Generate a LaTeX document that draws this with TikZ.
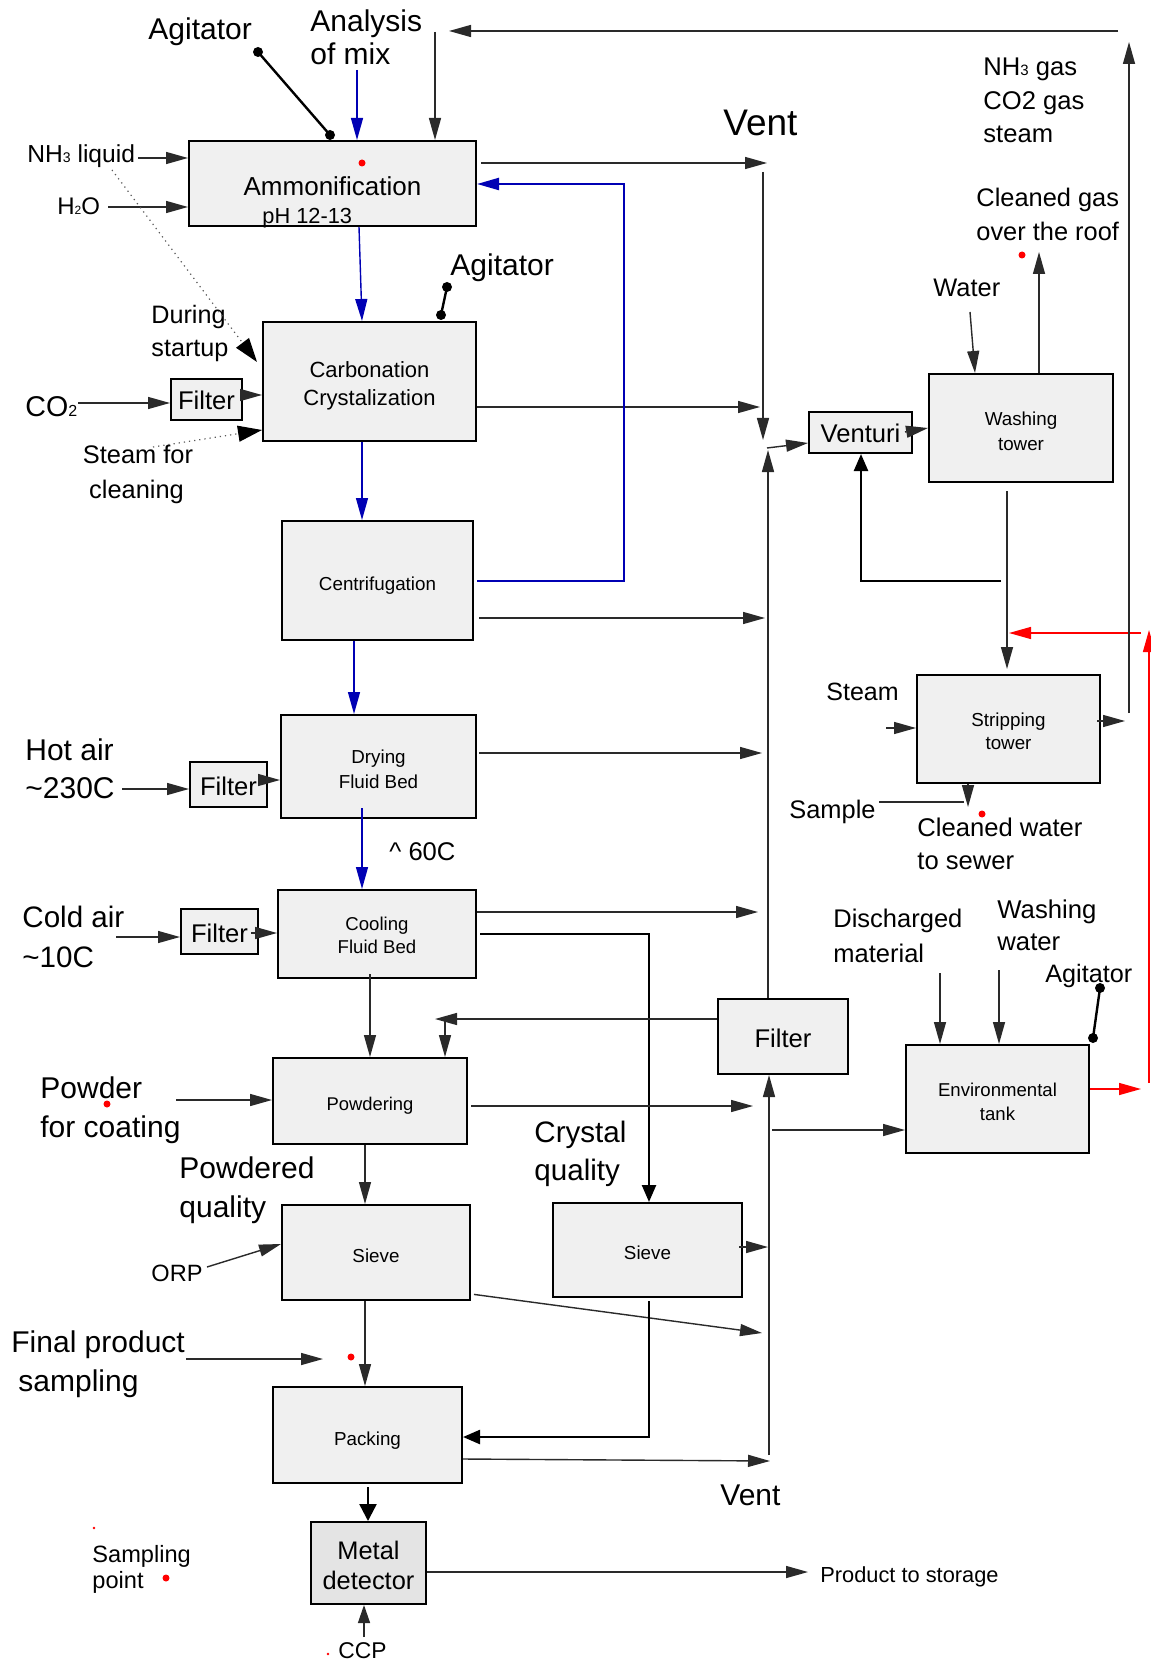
\documentclass[tikz,border=0pt]{standalone}
\usepackage{fontspec}
\setmainfont{Liberation Sans}
\usetikzlibrary{arrows.meta,calc}
\definecolor{boxgray}{HTML}{F0F0F0}
\definecolor{metalgray}{HTML}{E4E4E4}
\definecolor{flowblue}{HTML}{0000B4}
\definecolor{samplered}{HTML}{FF0000}
\definecolor{linegray}{HTML}{2A2A2A}
\newcommand\fsz[2]{\fontsize{#1}{#2}\selectfont}
\begin{document}
\begin{tikzpicture}[x=0.5pt,y=-0.5pt,
  box/.style={draw=black,fill=boxgray,line width=1pt,inner sep=0pt},
  btxt/.style={inner sep=0pt,align=center},
  lbl/.style={inner sep=0pt,anchor=base west},
  ar/.style={draw=linegray,line width=0.7pt,-{Triangle[length=11pt,width=6pt]}},
  bar/.style={ar,draw=flowblue},
  rar/.style={ar,draw=samplered},
  heavyar/.style={draw=black,line width=1.2pt,-{Triangle[length=8.5pt,width=7pt]}},
  dotar/.style={draw=black!65,line width=0.6pt,dotted,-{Triangle[length=12pt,width=8pt,black]}},
  ln/.style={draw=linegray,line width=0.7pt},
  agit/.style={draw=black,line width=1.2pt},
  sdot/.style={fill=samplered}
]
\fill[white] (0,0) rectangle (1150,1663);
\useasboundingbox (0,0) rectangle (1150,1663);

% ---------------- boxes ----------------
\node[box,minimum width=143.5pt,minimum height=42.5pt,
  label={[btxt,font=\fsz{13}{15},yshift=-1.6pt]center:Ammonification}] (amm) at (332.5,183.5) {};
\node[box,minimum width=106.5pt,minimum height=59.5pt,
  label={[btxt,font=\fsz{11}{14},yshift=-2.1pt]center:Carbonation\\Crystalization}] (carb) at (369.5,381.5) {};
\node[box,minimum width=95.5pt,minimum height=59.5pt,
  label={[btxt,font=\fsz{9.4}{11},yshift=-2.6pt]center:Centrifugation}] (cent) at (377.5,580.5) {};
\node[box,minimum width=97.5pt,minimum height=51.5pt,
  label={[btxt,font=\fsz{9.4}{12.5},yshift=-1.6pt]center:Drying\\Fluid Bed}] (dry) at (378.5,766.5) {};
\node[box,minimum width=99pt,minimum height=44pt,
  label={[btxt,font=\fsz{9.3}{11.5},yshift=-0.9pt]center:Cooling\\Fluid Bed}] (cool) at (377,934) {};
\node[box,minimum width=97pt,minimum height=43pt,
  label={[btxt,font=\fsz{9.2}{11},yshift=-2.6pt]center:Powdering}] (powd) at (370,1101) {};
\node[box,minimum width=94pt,minimum height=47.5pt,
  label={[btxt,font=\fsz{9.4}{11},yshift=-1.6pt]center:Sieve}] (sieveA) at (376,1252.5) {};
\node[box,minimum width=94.5pt,minimum height=47pt,
  label={[btxt,font=\fsz{9.4}{11},yshift=-1.2pt]center:Sieve}] (sieveB) at (647.5,1250) {};
\node[box,minimum width=94.5pt,minimum height=48pt,
  label={[btxt,font=\fsz{9.4}{11},yshift=-2.6pt]center:Packing}] (pack) at (367.5,1435) {};
\node[box,fill=metalgray,minimum width=57.5pt,minimum height=41pt,
  label={[btxt,font=\fsz{12.7}{15},yshift=-1.1pt]center:Metal\\detector}] (metal) at (368.5,1563) {};
\node[box,minimum width=35.5pt,minimum height=20.5pt,
  label={[btxt,font=\fsz{12.8}{15},yshift=-0.5pt]center:Filter}] (filA) at (206.5,399.5) {};
\node[box,minimum width=38.5pt,minimum height=22.5pt,
  label={[btxt,font=\fsz{12.8}{15},yshift=-1pt]center:Filter}] (filB) at (228.5,784.5) {};
\node[box,minimum width=38.5pt,minimum height=22.5pt,
  label={[btxt,font=\fsz{12.8}{15},yshift=-1pt]center:Filter}] (filC) at (219.5,931.5) {};
\node[box,minimum width=65pt,minimum height=37.5pt,
  label={[btxt,font=\fsz{12.8}{15},yshift=-1pt]center:Filter}] (filD) at (783,1036.5) {};
\node[box,minimum width=51.5pt,minimum height=20.5pt,
  label={[btxt,font=\fsz{12.8}{15},yshift=-0.5pt]center:Venturi}] (ventu) at (860.5,432.5) {};
\node[box,minimum width=92pt,minimum height=54pt,
  label={[btxt,font=\fsz{9.4}{12.5},yshift=-1.6pt]center:Washing\\tower}] (wash) at (1021,428) {};
\node[box,minimum width=91.5pt,minimum height=54pt,
  label={[btxt,font=\fsz{9.4}{11.5},yshift=-1.3pt]center:Stripping\\tower}] (strip) at (1008.5,729) {};
\node[box,minimum width=91.5pt,minimum height=54pt,
  label={[btxt,font=\fsz{9.3}{12},yshift=-1.3pt]center:Environmental\\tank}] (env) at (997.5,1099) {};

% ---------------- labels ----------------
\node[lbl,font=\fsz{10.9}{13}] (tpH) at (262,224) {pH 12-13};
\node[lbl,font=\fsz{15}{18}] (tAgitA) at (148,40) {Agitator};
\node[lbl,font=\fsz{15}{18}] (tAnal1) at (310,32) {Analysis};
\node[lbl,font=\fsz{15}{18}] (tAnal2) at (310,65) {of mix};
\node[lbl,font=\fsz{12.3}{15}] (tNH3) at (27,163) {NH{\fsz{7}{8}3} liquid};
\node[lbl,font=\fsz{12}{15}] (tH2O) at (57,215) {H{\fsz{6}{7}2}O};
\node[lbl,font=\fsz{12.6}{15}] (tDur1) at (151,324) {During};
\node[lbl,font=\fsz{12.6}{15}] (tDur2) at (151,357) {startup};
\node[lbl,font=\fsz{14.3}{17}] (tCO2) at (25,417) {CO{\fsz{8}{9}2}};
\node[lbl,font=\fsz{12.7}{15},anchor=base] (tSc1) at (138,464) {Steam for};
\node[lbl,font=\fsz{12.7}{15},anchor=base] (tSc2) at (136.5,498) {cleaning};
\node[lbl,font=\fsz{15}{18}] (tAgitB) at (450,276) {Agitator};
\node[lbl,font=\fsz{18.5}{22}] (tVent1) at (723,136) {Vent};
\node[lbl,font=\fsz{12.8}{15}] (tGas1) at (983,76) {NH{\fsz{7.5}{8}3} gas};
\node[lbl,font=\fsz{12.8}{15}] (tGas2) at (983,110) {CO2 gas};
\node[lbl,font=\fsz{12.8}{15}] (tGas3) at (983,143) {steam};
\node[lbl,font=\fsz{12.7}{15}] (tClg1) at (976,207) {Cleaned gas};
\node[lbl,font=\fsz{12.7}{15}] (tClg2) at (976,241) {over the roof};
\node[lbl,font=\fsz{12.7}{15}] (tWater) at (933,297) {Water};
\node[lbl,font=\fsz{15}{18}] (tHot1) at (25,760) {Hot air};
\node[lbl,font=\fsz{15}{18}] (tHot2) at (25,798) {\textasciitilde 230C};
\node[lbl,font=\fsz{12.8}{15}] (t60) at (389,860) {\textasciicircum\ 60C};
\node[lbl,font=\fsz{12.5}{15}] (tSteam) at (826,700) {Steam};
\node[lbl,font=\fsz{12.7}{15}] (tSample) at (789,818) {Sample};
\node[lbl,font=\fsz{12.8}{15}] (tCw1) at (917,836) {Cleaned water};
\node[lbl,font=\fsz{12.8}{15}] (tCw2) at (917,869) {to sewer};
\node[lbl,font=\fsz{14.8}{18}] (tCold1) at (22,927) {Cold air};
\node[lbl,font=\fsz{14.8}{18}] (tCold2) at (22,967) {\textasciitilde 10C};
\node[lbl,font=\fsz{12.75}{15}] (tDis1) at (833,927) {Discharged};
\node[lbl,font=\fsz{12.75}{15}] (tDis2) at (833,962) {material};
\node[lbl,font=\fsz{12.85}{15}] (tWw1) at (997,918) {Washing};
\node[lbl,font=\fsz{12.85}{15}] (tWw2) at (997,950) {water};
\node[lbl,font=\fsz{12.6}{15}] (tAgitC) at (1045,982) {Agitator};
\node[lbl,font=\fsz{15}{18}] (tPow1) at (40,1098) {Powder};
\node[lbl,font=\fsz{15}{18}] (tPow2) at (40,1137) {for coating};
\node[lbl,font=\fsz{15}{18}] (tPq1) at (179,1178) {Powdered};
\node[lbl,font=\fsz{15}{18}] (tPq2) at (179,1217) {quality};
\node[lbl,font=\fsz{14.8}{18}] (tCq1) at (534,1142) {Crystal};
\node[lbl,font=\fsz{14.8}{18}] (tCq2) at (534,1180) {quality};
\node[lbl,font=\fsz{11.8}{14}] (tORP) at (151,1281) {ORP};
\node[lbl,font=\fsz{15}{18}] (tFin1) at (11,1352) {Final product};
\node[lbl,font=\fsz{15}{18}] (tFin2) at (18,1391) {sampling};
\node[lbl,font=\fsz{11.8}{14}] (tSp1) at (92,1562) {Sampling};
\node[lbl,font=\fsz{11.8}{14}] (tSp2) at (92,1588) {point};
\node[lbl,font=\fsz{11.4}{14}] (tCCP) at (338,1658) {CCP};
\node[lbl,font=\fsz{10.9}{13}] (tStore) at (820,1582) {Product to storage};
\node[lbl,font=\fsz{15}{18}] (tVent2) at (720,1505) {Vent};

% ---------------- free-end coordinates ----------------
\coordinate (agA1) at (258,52);   \coordinate (agA2) at (330,135);
\coordinate (agB1) at (447,287);  \coordinate (agB2) at (441,315);
\coordinate (agC1) at (1100,988); \coordinate (agC2) at (1093,1038);
\coordinate (anS) at (357,70);
\coordinate (topR) at (1118,31);  \coordinate (topL) at (449,31);
\coordinate (topV) at (435,32);
\coordinate (nh3S) at (138,158);  \coordinate (h2oS) at (108,207);
\coordinate (dsS) at (112,170);   \coordinate (dsE) at (257,362);
\coordinate (co2S) at (78,403);
\coordinate (scS) at (153,447);
\coordinate (v1) at (767,163);    \coordinate (v2) at (760,407);
\coordinate (vv1) at (763,172);   \coordinate (vv2) at (763,440);
\coordinate (vs) at (767,448);    \coordinate (vv3) at (768,450);
\coordinate (retX) at (624,184);
\coordinate (v3) at (765,618);    \coordinate (v4) at (762,753);
\coordinate (hotS) at (122,789);  \coordinate (coldS) at (116,937);
\coordinate (v5) at (758,912);
\coordinate (fdl) at (435,1019);  \coordinate (fdd) at (445,1019);
\coordinate (v6) at (753,1106);   \coordinate (powS) at (176,1100);
\coordinate (orpS) at (207,1267);
\coordinate (v7) at (768,1247);   \coordinate (v8) at (762,1333);
\coordinate (finS) at (186,1359); \coordinate (finE) at (323,1359);
\coordinate (v9) at (770,1461);   \coordinate (vb) at (769,1455);
\coordinate (envS) at (772,1130);
\coordinate (ccpS) at (364,1637); \coordinate (stE) at (808,1572);
\coordinate (watS) at (970,312);  \coordinate (gasE) at (1039,252);
\coordinate (vrS) at (1001,581);
\coordinate (redA) at (1141,633); \coordinate (redB) at (1009,633);
\coordinate (redV0) at (1149,1083); \coordinate (redV) at (1149,630);
\coordinate (redE) at (1141,1089);
\coordinate (stmS) at (886,728);  \coordinate (srE) at (1125,721);
\coordinate (rvS) at (1129,713);  \coordinate (rvE) at (1129,42);
\coordinate (smS) at (879,802);   \coordinate (smE) at (964,802);
\coordinate (cwE) at (968,807);
\coordinate (disS) at (940,973);  \coordinate (wwS) at (999,970);

% ---------------- agitators ----------------
\draw[agit] (agA1) -- (agA2); \fill (agA1) circle (5); \fill (agA2) circle (5);
\draw[agit] (agB1) -- (agB2); \fill (agB1) circle (5); \fill (agB2) circle (5);
\draw[agit] (agC1) -- (agC2); \fill (agC1) circle (5); \fill (agC2) circle (5);

% ---------------- left column connectors ----------------
\draw[bar] (anS) -- (anS |- amm.north);
\draw[ar] (topR) -- (topL);
\draw[ar] (topV) -- (topV |- amm.north);
\draw[ar] (nh3S) -- (nh3S -| amm.west);
\draw[ar] (h2oS) -- (h2oS -| amm.west);
\draw[dotar] (dsS) -- (dsE);
\draw[bar] (amm.south -| 359,0) -- (carb.north -| 362,0);
\draw[ar] (co2S) -- (co2S -| filA.west);
\draw[ar] ($(filA.east |- 0,395)+(-3,0)$) -- (carb.west |- 0,395);
\draw[dotar] (scS) -- (carb.west |- 0,430);
\draw[ar] (carb.east |- v2) -- (v2);
\draw[ar,shorten <=2pt] (amm.east |- v1) -- (v1);
\draw[ar] (vv1) -- (vv2);
\draw[ar] (vs) -- (ventu.west |- 0,443);
\draw[ar] (filD.north -| vv3) -- (vv3);
\draw[bar,line width=1.1pt] ($(cent.east |- 0,581)+(3,0)$) -| (retX) -- (amm.east |- retX);
\draw[ar,shorten <=2.5pt] (cent.east |- v3) -- (v3);
\draw[bar] (carb.south -| 362,0) -- (cent.north -| 362,0);
\draw[bar] (cent.south -| 354,0) -- (dry.north -| 354,0);
\draw[ar] (hotS) -- (hotS -| filB.west);
\draw[ar] ($(filB.east |- 0,780)+(-8,0)$) -- (dry.west |- 0,780);
\draw[bar] ($(dry.south -| 362,0)+(0,-11)$) -- (cool.north -| 362,0);
\draw[ar,shorten <=1pt] (dry.east |- v4) -- (v4);
\draw[ar] (coldS) -- (coldS -| filC.west);
\draw[ar] ($(filC.east |- 0,933)+(-8,0)$) -- (cool.west |- 0,933);
\draw[ar] (cool.east |- v5) -- (v5);
\draw[heavyar] ($(cool.east |- 0,934)+(3,0)$) -| (sieveB.north -| 649,0);
\draw[ar] ($(cool.south -| 370,0)+(0,-5)$) -- (powd.north -| 370,0);
\draw[ar] (filD.west |- fdl) -- (fdl);
\draw[ar] (fdd) -- (powd.north -| fdd);
\draw[ar,shorten <=1.5pt] (powd.east |- v6) -- (v6);
\draw[ar] (powS) -- (powS -| powd.west);
\draw[ar] (powd.south -| 365,0) -- (sieveA.north -| 365,0);
\draw[ar] (orpS) -- (sieveA.west |- 0,1244);
\draw[ar] ($(sieveB.east |- v7)+(-4,0)$) -- (v7);
\draw[ar,shorten <=1.5pt] (sieveA.east |- 0,1294) -- (v8);
\draw[ar] (sieveA.south -| 365,0) -- (pack.north -| 365,0);
\draw[ar] (finS) -- (finE);
\draw[heavyar] ($(sieveB.south -| 649,0)+(0,3)$) |- (pack.east |- 0,1437);
\draw[ar] (pack.east |- 0,1459) -- (v9);
\draw[ar] (vb) -- (filD.south -| vb);
\draw[ar] (envS) -- (envS -| env.west);
\draw[draw=black,line width=1.2pt,-{Triangle[length=8.5pt,width=8.5pt]}] ($(pack.south -| 368,0)+(0,3)$) -- (metal.north -| 368,0);
\draw[draw=linegray,line width=0.7pt,-{Triangle[length=9pt,width=6pt]}] (ccpS) -- (ccpS |- metal.south);
\draw[ar] (metal.east |- stE) -- (stE);

% ---------------- right side connectors ----------------
\draw[ar] ($(ventu.east |- 0,432)+(-8,0)$) -- (wash.west |- 0,428);
\draw[ar] (watS) -- (wash.north -| 975,0);
\draw[ar] (wash.north -| gasE) -- (gasE);
\draw[ar] ($(wash.south -| 1007,0)+(0,8)$) -- ($(strip.north -| 1007,0)+(0,-5)$);
\draw[heavyar] (vrS) -| (ventu.south -| 861,0);
\draw[rar] (redA) -- (redB);
\draw[rar] (redV0) -- (redV);
\draw[rar] (env.east |- redE) -- (redE);
\draw[ar] (stmS) -- (stmS -| strip.west);
\draw[ar] ($(strip.east |- srE)+(-4,0)$) -- (srE);
\draw[ar] (rvS) -- (rvE);
\draw[ln] (smS) -- (smE);
\draw[ar] (strip.south -| cwE) -- (cwE);
\draw[ar] (disS) -- (disS |- env.north);
\draw[ar] (wwS) -- (wwS |- env.north);

% ---------------- sampling points ----------------
\fill[sdot] (362,163) circle (3.5);
\fill[sdot] (1022,255) circle (3.5);
\fill[sdot] (982,814) circle (3.5);
\fill[sdot] (107,1104) circle (3.5);
\fill[sdot] (351,1357) circle (3.5);
\fill[sdot] (166,1578) circle (3.5);
\fill[sdot] (94,1528) circle (1.3);
\fill[sdot] (328,1654) circle (1.3);
\end{tikzpicture}
\end{document}
